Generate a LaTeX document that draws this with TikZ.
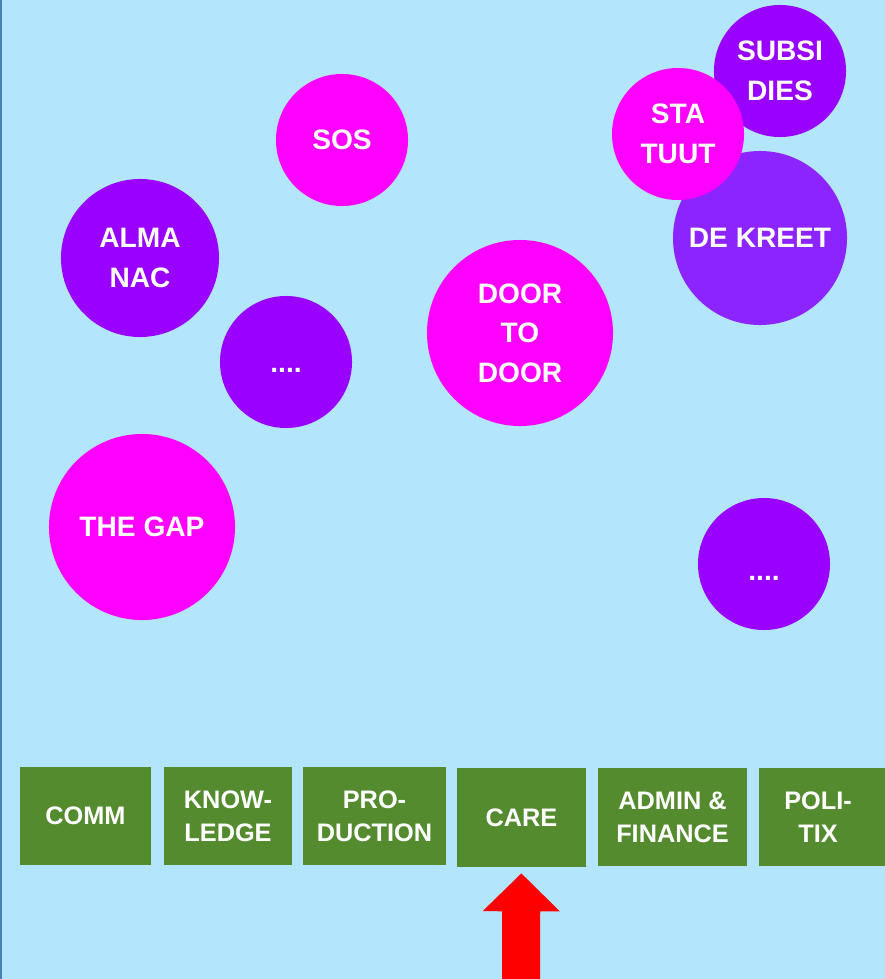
\documentclass[tikz,border=0pt]{standalone}
\usepackage{fontspec}
\setmainfont{Liberation Sans}
\usepackage{tikz}
\usetikzlibrary{arrows.meta}
\definecolor{skyback}{RGB}{179,229,252}
\definecolor{edgeblue}{RGB}{70,130,180}
\definecolor{bubblemag}{RGB}{255,0,255}
\definecolor{bubblepur}{RGB}{153,0,255}
\definecolor{bubblevio}{RGB}{139,36,255}
\definecolor{teamgreen}{RGB}{85,139,47}
\tikzset{
    bubble/.style={circle, draw=none, inner sep=0pt, text=white, align=center,
        font=\fontsize{20}{28}\selectfont\bfseries},
    team/.style={rectangle, draw=none, fill=teamgreen, inner sep=0pt, text=white,
        align=center, minimum height=2.45cm, font=\fontsize{18}{23.5}\selectfont\bfseries},
    pointer/.style={-{Triangle[width=1.875cm,length=0.95cm]}, red, line width=0.95cm,
        shorten >=0.15cm}
}

\begin{document}
\begin{tikzpicture}[x=0.025cm, y=-0.025cm]
        % background
        \fill[skyback] (0,0) rectangle (885,979);
        \useasboundingbox (0,0) rectangle (885,979);
        \draw[edgeblue, line width=0.05cm] (1,0) -- (1,979);

        % circles
        \node[bubble, fill=bubblemag, minimum size=3.3cm] (sos) at (342,140) {SOS};
        \node[bubble, fill=bubblepur, minimum size=3.95cm] (almanac) at (140,258) {ALMA\\NAC};
        \node[bubble, fill=bubblepur, minimum size=3.3cm] (dotsleft) at (286,362) {\raisebox{-0.25cm}[0pt][0pt]{....}};
        \node[bubble, fill=bubblemag, minimum size=4.65cm] (doortodoor) at (520,333) {DOOR\\TO\\DOOR};
        \node[bubble, fill=bubblepur, minimum size=3.3cm] (subsidies) at (780,71) {SUBSI\\DIES};
        \node[bubble, fill=bubblevio, minimum size=4.35cm] (dekreet) at (760,238) {DE KREET};
        \node[bubble, fill=bubblemag, minimum size=3.3cm] (statuut) at (678,134) {STA\\TUUT};
        \node[bubble, fill=bubblemag, minimum size=4.65cm] (thegap) at (142,527) {THE GAP};
        \node[bubble, fill=bubblepur, minimum size=3.3cm] (dotsright) at (764,564) {\raisebox{-0.4cm}[0pt][0pt]{....}};

        % teams
        \node[team, minimum width=3.275cm] (comm) at (85.5,816) {COMM};
        \node[team, minimum width=3.2cm] (knowledge) at (228,816) {KNOW-\\LEDGE};
        \node[team, minimum width=3.575cm] (production) at (374.5,816) {PRO-\\DUCTION};
        \node[team, minimum width=3.225cm, minimum height=2.475cm] (care) at (521.5,817.5) {CARE};
        \node[team, minimum width=3.725cm] (admin) at (672.5,817) {ADMIN \&\\FINANCE};
        \node[team, minimum width=3.4cm] (politix) at (827,817) {POLI-\hspace*{0.45cm}\\TIX\hspace*{0.45cm}};

        % arrow
        \coordinate (tail) at (521,1000);
        \draw[pointer] (tail) -- (care);
\end{tikzpicture}
\end{document}
